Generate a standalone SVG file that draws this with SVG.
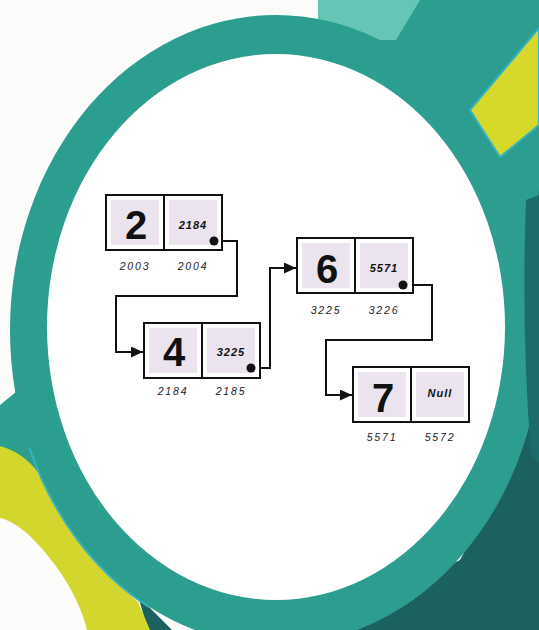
<svg xmlns="http://www.w3.org/2000/svg" width="539" height="630" viewBox="0 0 539 630">
<style>
.box{fill:#ffffff;stroke:#111;stroke-width:2}
.cell{fill:#ebe4ee}
.div{stroke:#111;stroke-width:2}
.num{font-family:"Liberation Sans",Arial,sans-serif;font-weight:bold;font-size:40px;fill:#111;text-anchor:middle}
.ptr{font-family:"Liberation Sans",Arial,sans-serif;font-weight:bold;font-style:italic;font-size:11px;letter-spacing:1px;fill:#111;text-anchor:middle}
.addr{font-family:"Liberation Sans",Arial,sans-serif;font-style:italic;font-size:10.5px;letter-spacing:1.8px;fill:#222;text-anchor:middle}
.wire{fill:none;stroke:#111;stroke-width:2}
.dot{fill:#111}
</style>
<defs>
<marker id="arrow" markerUnits="userSpaceOnUse" markerWidth="13" markerHeight="12" refX="12" refY="5.5" orient="auto">
<path d="M0,0 L12,5.5 L0,11 Z" fill="#111"/>
</marker>
</defs>
<g id="background">
<rect x="0" y="0" width="539" height="630" fill="#fcfcfb"/>
<rect x="380" y="0" width="159" height="230" fill="#2b9e90"/>
<polygon points="318,0 420,0 396,40 318,40" fill="#66c6b6"/>
<polygon points="539,190 539,630 320,630 460,560 520,450" fill="#1a615f"/>
<path d="M0 405 L16 392 L48 490 L0 447 Z" fill="#2b9e90"/>
<path d="M138 596 L172 630 L148 630 Z" fill="#1a615f"/>
<path d="M0 446 C22 452 38 468 46 486 C62 522 92 562 138 602 L150 630 L87 630 C80 600 60 566 30 536 C15 523 6 519 0 518 Z" fill="#d3d62c"/>
<ellipse cx="276" cy="330" rx="266" ry="315" fill="#2b9e90"/>
<path d="M29.4 448 A266 315 0 0 0 149 607" fill="none" stroke="#35b3c2" stroke-width="2"/>
<path d="M539 195 L526 200 Q521 330 531 455 L539 462 Z" fill="#1c6c69"/>
<polygon points="470,110 539,28 539,125 500,157" fill="#d6d82a" stroke="#35b3c2" stroke-width="2"/>
<ellipse cx="276" cy="327" rx="229" ry="273" fill="#ffffff"/>
</g>
<g id="connectors">
<path class="wire" d="M214 241 H237 V296 H116 V352 H143" marker-end="url(#arrow)"/>
<path class="wire" d="M251 368 H270 V268 H296" marker-end="url(#arrow)"/>
<path class="wire" d="M403 285 H432 V340 H326 V395 H352" marker-end="url(#arrow)"/>
</g>
<g id="node-2">
<rect class="box" x="106" y="195" width="116" height="55"/>
<rect class="cell" x="111" y="200" width="48" height="45"/>
<rect class="cell" x="169" y="200" width="48" height="45"/>
<line class="div" x1="164" y1="195" x2="164" y2="250"/>
<text class="num" x="136" y="239">2</text>
<text class="ptr" x="193" y="229">2184</text>
<circle class="dot" cx="214" cy="241" r="4.5"/>
<text class="addr" x="135" y="270">2003</text>
<text class="addr" x="193" y="270">2004</text>
</g>
<g id="node-4">
<rect class="box" x="144" y="323" width="116" height="55"/>
<rect class="cell" x="149" y="328" width="48" height="45"/>
<rect class="cell" x="207" y="328" width="48" height="45"/>
<line class="div" x1="202" y1="323" x2="202" y2="378"/>
<text class="num" x="174" y="366">4</text>
<text class="ptr" x="231" y="356">3225</text>
<circle class="dot" cx="251" cy="368" r="4.5"/>
<text class="addr" x="173" y="395">2184</text>
<text class="addr" x="231" y="395">2185</text>
</g>
<g id="node-6">
<rect class="box" x="297" y="238" width="116" height="55"/>
<rect class="cell" x="302" y="243" width="48" height="45"/>
<rect class="cell" x="360" y="243" width="48" height="45"/>
<line class="div" x1="355" y1="238" x2="355" y2="293"/>
<text class="num" x="327" y="283">6</text>
<text class="ptr" x="384" y="272">5571</text>
<circle class="dot" cx="403" cy="285" r="4.5"/>
<text class="addr" x="326" y="314">3225</text>
<text class="addr" x="384" y="314">3226</text>
</g>
<g id="node-7">
<rect class="box" x="353" y="367" width="116" height="55"/>
<rect class="cell" x="358" y="372" width="48" height="45"/>
<rect class="cell" x="416" y="372" width="48" height="45"/>
<line class="div" x1="411" y1="367" x2="411" y2="422"/>
<text class="num" x="383" y="412">7</text>
<text class="ptr" x="440" y="397">Null</text>
<text class="addr" x="382" y="441">5571</text>
<text class="addr" x="440" y="441">5572</text>
</g>
</svg>
